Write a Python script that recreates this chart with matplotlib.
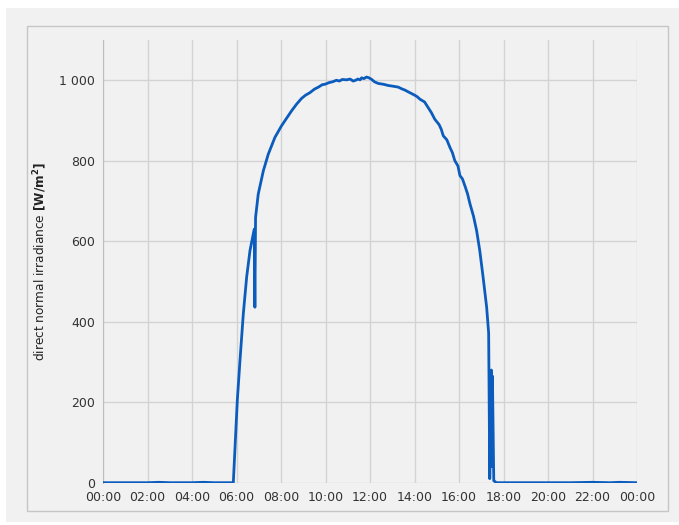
import matplotlib
matplotlib.use("Agg")
import matplotlib.pyplot as plt
from matplotlib.patches import Rectangle
from matplotlib.ticker import FuncFormatter

# direct normal irradiance over one day
hours = [0.0, 1.0, 2.0, 2.5, 3.0, 4.0, 4.5, 5.0, 5.5, 5.85,
         6.03, 6.15, 6.30, 6.45, 6.60, 6.79, 6.82, 6.85, 6.97, 7.20,
         7.42, 7.72, 8.02, 8.25, 8.47, 8.70, 8.92, 9.10, 9.29, 9.50,
         9.68, 9.85, 9.97, 10.15, 10.30, 10.49, 10.62, 10.75, 10.94, 11.10,
         11.24, 11.35, 11.45, 11.55, 11.62, 11.72, 11.84, 11.95, 12.07, 12.20,
         12.37, 12.60, 12.81, 13.05, 13.26, 13.45, 13.55, 13.79, 14.00, 14.12,
         14.24, 14.45, 14.61, 14.75, 14.91, 15.10, 15.20, 15.29, 15.45, 15.59,
         15.70, 15.81, 15.95, 16.04, 16.15, 16.26, 16.38, 16.49, 16.65, 16.79,
         16.93, 17.08, 17.24, 17.33, 17.38, 17.45, 17.48, 17.50, 17.56, 17.68,
         19.0, 20.0, 21.0, 22.0, 22.8, 23.2, 24.0]
dni = [0, 0, 0, 1, 0, 0, 1, 0, 0, 0,
       205, 304, 420, 511, 577, 630, 436, 659, 717, 775,
       816, 858, 887, 906, 924, 941, 955, 963, 969, 978,
       983, 989, 990, 994, 996, 1000, 998, 1002, 1001, 1003,
       998, 1000, 1003, 1001, 1006, 1004, 1008, 1006, 1002, 996,
       992, 990, 987, 985, 983, 978, 976, 969, 963, 959,
       953, 946, 932, 920, 903, 890, 878, 862, 852, 833,
       820, 800, 787, 763, 755, 738, 718, 693, 662, 626,
       577, 511, 436, 372, 10, 280, 40, 265, 5, 0,
       0, 0, 0, 1, 0, 1, 0]

tick_hours = list(range(0, 25, 2))
tick_labels = [f"{h % 24:02d}:00" for h in tick_hours]
y_ticks = [0, 200, 400, 600, 800, 1000]

plt.rcParams["mathtext.fontset"] = "dejavusans"
fig = plt.figure(figsize=(6.79, 5.25), dpi=100)
fig.patch.set_facecolor("white")

# grey panel and the thin frame around the chart
W, H = 679, 525
fig.patches.append(Rectangle((6 / W, 1 - 522 / H), 673 / W, 514 / H, transform=fig.transFigure,
                             facecolor="#f1f1f1", edgecolor="none", zorder=-10))
fig.patches.append(Rectangle((27 / W, 1 - 511 / H), 641 / W, 485 / H, transform=fig.transFigure,
                             facecolor="#f1f1f1", edgecolor="#c6c6c6", lw=1, zorder=-9))

ax = fig.add_axes([103.2 / W, 1 - 482.7 / H, (637 - 103.2) / W, (482.7 - 40) / H])
ax.set_facecolor("none")
ax.plot(hours, dni, color="#0b5cbd", lw=2.0, zorder=3)

ax.set_xlim(0, 24)
ax.set_ylim(0, 1100)
ax.set_xticks(tick_hours)
ax.set_xticklabels(tick_labels)
ax.set_yticks(y_ticks)
ax.yaxis.set_major_formatter(FuncFormatter(lambda v, _: f"{int(v):,}".replace(",", " ")))
ax.grid(True, color="#d3d3d3", lw=1)
ax.set_axisbelow(True)
for s in ["top", "right", "bottom"]:
    ax.spines[s].set_visible(False)
ax.spines["left"].set_color("#bdbdbd")
ax.tick_params(length=0, labelsize=9, labelcolor="#333333", pad=6)

ax.set_ylabel(r"direct normal irradiance $\mathbf{[W/m^2]}$", fontsize=8.7, color="#222222")
ax.yaxis.set_label_coords(-(103.2 - 49) / (637 - 103.2), 0.5)

fig.savefig("out.png", dpi=100)
